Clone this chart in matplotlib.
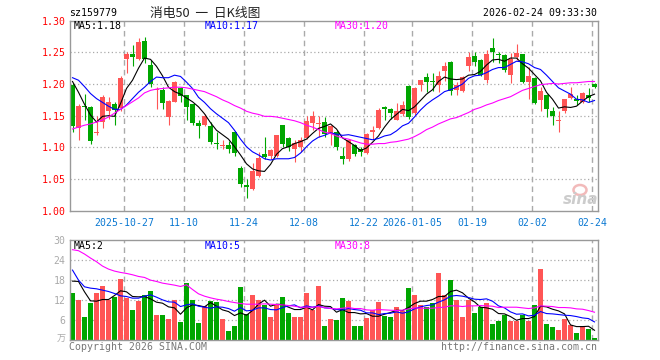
import matplotlib
matplotlib.use('Agg')
import matplotlib.pyplot as plt
from matplotlib.patches import Ellipse
import numpy as np

# ---------------- data ----------------
date_labels = ['2025-10-27', '11-10', '11-24', '12-08', '12-22',
               '2026-01-05', '01-19', '02-02', '02-24']
date_index = [9, 19, 29, 39, 49, 57, 67, 77, 87]

opens = [1.198, 1.130, 1.165, 1.164, 1.122, 1.140, 1.157, 1.169, 1.162, 1.240,
         1.248, 1.240, 1.268, 1.230, 1.190, 1.190, 1.148, 1.172, 1.193, 1.182,
         1.168, 1.138, 1.135, 1.133, 1.107, 1.102, 1.104, 1.125, 1.068, 1.041,
         1.035, 1.055, 1.089, 1.086, 1.086, 1.135, 1.114, 1.097, 1.100, 1.114,
         1.138, 1.137, 1.140, 1.122, 1.124, 1.087, 1.081, 1.103, 1.097, 1.091,
         1.124, 1.131, 1.163, 1.161, 1.144, 1.153, 1.197, 1.154, 1.198, 1.211,
         1.205, 1.199, 1.221, 1.235, 1.190, 1.189, 1.229, 1.244, 1.238, 1.206,
         1.257, 1.247, 1.246, 1.214, 1.242, 1.247, 1.204, 1.209, 1.175, 1.183,
         1.157, 1.141, 1.158, 1.178, 1.175, 1.172, 1.183, 1.200]
highs = [1.201, 1.168, 1.185, 1.166, 1.149, 1.182, 1.180, 1.171, 1.213, 1.250,
         1.262, 1.272, 1.275, 1.238, 1.195, 1.195, 1.175, 1.205, 1.195, 1.183,
         1.169, 1.143, 1.153, 1.140, 1.125, 1.112, 1.110, 1.126, 1.070, 1.050,
         1.075, 1.093, 1.117, 1.097, 1.120, 1.136, 1.116, 1.112, 1.117, 1.150,
         1.158, 1.150, 1.148, 1.135, 1.128, 1.101, 1.113, 1.106, 1.100, 1.122,
         1.134, 1.162, 1.166, 1.162, 1.170, 1.174, 1.198, 1.195, 1.207, 1.217,
         1.218, 1.220, 1.235, 1.236, 1.203, 1.212, 1.251, 1.250, 1.239, 1.254,
         1.273, 1.251, 1.247, 1.249, 1.264, 1.248, 1.227, 1.211, 1.196, 1.184,
         1.164, 1.157, 1.177, 1.195, 1.182, 1.187, 1.193, 1.201]
lows = [1.124, 1.112, 1.143, 1.105, 1.119, 1.131, 1.145, 1.136, 1.158, 1.217,
        1.229, 1.238, 1.234, 1.196, 1.160, 1.161, 1.135, 1.171, 1.172, 1.143,
        1.135, 1.115, 1.133, 1.105, 1.097, 1.097, 1.091, 1.087, 1.038, 1.020,
        1.033, 1.053, 1.081, 1.082, 1.085, 1.101, 1.094, 1.077, 1.093, 1.113,
        1.127, 1.117, 1.116, 1.104, 1.096, 1.073, 1.079, 1.086, 1.087, 1.089,
        1.114, 1.129, 1.144, 1.145, 1.143, 1.150, 1.145, 1.151, 1.189, 1.188,
        1.189, 1.187, 1.205, 1.182, 1.183, 1.188, 1.220, 1.228, 1.212, 1.202,
        1.235, 1.233, 1.219, 1.201, 1.238, 1.202, 1.176, 1.168, 1.157, 1.148,
        1.136, 1.124, 1.155, 1.176, 1.167, 1.170, 1.172, 1.194]
closes = [1.133, 1.166, 1.164, 1.110, 1.125, 1.179, 1.171, 1.159, 1.210, 1.248,
          1.242, 1.266, 1.239, 1.200, 1.192, 1.170, 1.173, 1.204, 1.181, 1.163,
          1.138, 1.134, 1.150, 1.109, 1.105, 1.104, 1.097, 1.091, 1.042, 1.037,
          1.062, 1.083, 1.085, 1.096, 1.119, 1.105, 1.101, 1.107, 1.112, 1.142,
          1.150, 1.139, 1.121, 1.133, 1.100, 1.081, 1.112, 1.090, 1.092, 1.121,
          1.127, 1.159, 1.161, 1.154, 1.158, 1.167, 1.148, 1.193, 1.206, 1.204,
          1.203, 1.213, 1.229, 1.189, 1.199, 1.211, 1.243, 1.235, 1.214, 1.248,
          1.250, 1.246, 1.222, 1.239, 1.249, 1.204, 1.213, 1.170, 1.189, 1.161,
          1.149, 1.143, 1.176, 1.185, 1.174, 1.186, 1.178, 1.196]
volumes = [14.2, 12.1, 7.0, 11.2, 14.2, 16.3, 12.1, 13.0, 18.3, 12.8,
           9.1, 11.8, 13.6, 14.8, 7.6, 7.6, 6.4, 12.1, 5.5, 17.1,
           12.1, 5.2, 10.3, 11.8, 11.6, 6.4, 2.8, 4.3, 16.0, 7.9,
           13.6, 12.1, 10.6, 7.0, 10.6, 13.0, 8.2, 7.0, 7.0, 14.2,
           9.1, 16.3, 4.3, 6.4, 6.1, 12.7, 11.9, 4.3, 4.3, 6.7,
           9.0, 11.5, 7.3, 7.0, 10.0, 8.8, 15.7, 13.6, 10.6, 10.0,
           11.2, 20.1, 13.6, 18.0, 12.1, 7.0, 12.1, 8.2, 10.0, 11.2,
           4.9, 5.8, 7.6, 5.8, 5.8, 7.6, 5.8, 10.6, 21.3, 4.9,
           4.0, 3.1, 6.4, 4.6, 2.2, 4.3, 3.4, 0.7]

ma5 = [1.204, 1.187, 1.168, 1.151, 1.140, 1.149, 1.150, 1.149, 1.169, 1.193,
       1.206, 1.225, 1.241, 1.239, 1.228, 1.213, 1.195, 1.188, 1.184, 1.178,
       1.172, 1.164, 1.153, 1.139, 1.127, 1.120, 1.113, 1.101, 1.088, 1.074,
       1.066, 1.063, 1.062, 1.073, 1.089, 1.098, 1.101, 1.106, 1.109, 1.113,
       1.122, 1.130, 1.133, 1.137, 1.129, 1.115, 1.109, 1.103, 1.095, 1.099,
       1.108, 1.118, 1.132, 1.144, 1.152, 1.160, 1.158, 1.164, 1.174, 1.184,
       1.191, 1.204, 1.211, 1.208, 1.207, 1.208, 1.214, 1.215, 1.220, 1.230,
       1.238, 1.239, 1.236, 1.241, 1.241, 1.232, 1.225, 1.215, 1.205, 1.187,
       1.176, 1.162, 1.164, 1.163, 1.165, 1.173, 1.180, 1.184]
ma10 = [1.210, 1.206, 1.196, 1.185, 1.177, 1.171, 1.165, 1.160, 1.160, 1.167,
        1.177, 1.187, 1.195, 1.204, 1.211, 1.210, 1.210, 1.214, 1.212, 1.203,
        1.193, 1.179, 1.171, 1.161, 1.153, 1.146, 1.139, 1.127, 1.113, 1.101,
        1.093, 1.088, 1.082, 1.080, 1.082, 1.082, 1.082, 1.084, 1.091, 1.101,
        1.110, 1.116, 1.119, 1.123, 1.121, 1.119, 1.120, 1.118, 1.116, 1.114,
        1.112, 1.114, 1.118, 1.120, 1.126, 1.134, 1.138, 1.148, 1.159, 1.168,
        1.175, 1.181, 1.188, 1.191, 1.195, 1.200, 1.209, 1.213, 1.214, 1.218,
        1.223, 1.226, 1.226, 1.231, 1.236, 1.235, 1.232, 1.226, 1.223, 1.214,
        1.204, 1.194, 1.189, 1.184, 1.176, 1.175, 1.171, 1.174]
ma30 = [1.129, 1.132, 1.135, 1.137, 1.140, 1.143, 1.148, 1.154, 1.160, 1.166,
        1.172, 1.178, 1.186, 1.190, 1.192, 1.193, 1.194, 1.195, 1.195, 1.194,
        1.192, 1.190, 1.188, 1.184, 1.180, 1.175, 1.171, 1.166, 1.162, 1.157,
        1.154, 1.152, 1.149, 1.149, 1.148, 1.146, 1.144, 1.142, 1.139, 1.135,
        1.132, 1.128, 1.124, 1.122, 1.118, 1.115, 1.113, 1.110, 1.107, 1.105,
        1.105, 1.106, 1.106, 1.108, 1.109, 1.111, 1.113, 1.117, 1.122, 1.128,
        1.132, 1.137, 1.141, 1.145, 1.147, 1.151, 1.155, 1.160, 1.163, 1.167,
        1.170, 1.174, 1.177, 1.180, 1.185, 1.190, 1.193, 1.196, 1.199, 1.200,
        1.201, 1.200, 1.201, 1.202, 1.202, 1.203, 1.204, 1.204]

vma5 = [17.7, 17.6, 14.5, 11.8, 11.7, 12.2, 12.2, 13.4, 14.8, 14.5,
        13.1, 13.0, 13.1, 12.4, 11.4, 11.1, 10.0, 9.7, 7.8, 9.7,
        10.6, 10.4, 10.0, 11.3, 10.2, 9.1, 8.6, 7.4, 8.2, 7.5,
        8.9, 10.8, 12.0, 10.2, 10.8, 10.7, 9.9, 9.2, 9.2, 9.9,
        9.1, 10.7, 10.2, 10.1, 8.4, 9.2, 8.3, 8.3, 7.9, 8.0,
        7.2, 7.2, 7.8, 8.3, 9.0, 8.9, 9.8, 11.0, 11.7, 11.7,
        12.2, 13.1, 13.1, 14.6, 15.0, 14.2, 12.6, 11.5, 9.9, 9.7,
        9.3, 8.0, 7.9, 7.1, 6.0, 6.5, 6.5, 7.1, 10.2, 10.0,
        9.3, 8.8, 7.9, 4.6, 4.1, 4.1, 4.2, 3.0]
vma10 = [21.0, 18.0, 16.0, 15.6, 15.4, 15.0, 14.6, 14.0, 13.3, 13.1,
         12.6, 12.6, 13.2, 13.6, 12.9, 12.1, 11.5, 11.4, 10.1, 10.6,
         10.9, 10.2, 9.9, 9.6, 10.0, 9.9, 9.5, 8.7, 9.8, 8.8,
         9.0, 9.7, 9.7, 9.2, 9.1, 9.8, 10.3, 10.6, 9.7, 10.3,
         9.9, 10.3, 9.7, 9.6, 9.2, 9.1, 9.5, 9.2, 9.0, 8.2,
         8.2, 7.7, 8.0, 8.1, 8.5, 8.1, 8.5, 9.4, 10.0, 10.4,
         10.6, 11.4, 12.1, 13.2, 13.4, 13.2, 12.8, 12.3, 12.2, 12.4,
         11.7, 10.3, 9.7, 8.5, 7.8, 7.9, 7.3, 7.5, 8.6, 8.0,
         7.9, 7.7, 7.5, 7.4, 7.1, 6.7, 6.5, 5.5]
vma30 = [27.1, 26.8, 25.8, 24.6, 23.5, 22.2, 21.3, 20.7, 20.3, 20.0,
         19.6, 19.1, 18.8, 18.0, 17.6, 17.1, 16.8, 16.5, 16.1, 16.6,
         15.2, 13.9, 13.2, 12.7, 12.3, 12.0, 11.6, 11.3, 11.0, 10.8,
         10.8, 10.8, 10.9, 10.8, 10.7, 10.6, 10.4, 10.2, 9.9, 9.9,
         9.9, 10.1, 9.8, 9.5, 9.4, 9.6, 9.8, 9.5, 9.5, 9.1,
         9.0, 9.2, 9.1, 9.0, 8.9, 9.0, 9.4, 9.7, 9.6, 9.6,
         9.6, 9.8, 9.9, 10.3, 10.3, 10.1, 10.3, 10.3, 10.4, 10.3,
         10.2, 9.8, 9.9, 9.9, 9.9, 9.7, 9.5, 9.7, 10.3, 10.2,
         10.1, 9.8, 9.8, 9.7, 9.4, 9.3, 8.9, 8.4]

price_ticks = [1.00, 1.05, 1.10, 1.15, 1.20, 1.25, 1.30]
vol_ticks = [6, 12, 18, 24, 30]

# ---------------- style ----------------
RED = '#ff5555'
GREEN = '#00a600'
MONO = 'DejaVu Sans Mono'
CJK = ['Noto Sans CJK SC', 'DejaVu Sans']
FS = 7.1
GRIDC = '#aaaaaa'
W, H = 660, 360

def rect(x0, y0, x1, y1):
    return [x0 / W, 1 - y1 / H, (x1 - x0) / W, (y1 - y0) / H]

fig = plt.figure(figsize=(6.6, 3.6), dpi=100)
fig.patch.set_facecolor('white')
ax = fig.add_axes(rect(70, 20.7, 598, 210.7))
axv = fig.add_axes(rect(70, 240, 598, 340.3))

n = len(closes)
idx = np.arange(n)
o = np.array(opens); c = np.array(closes)
hi = np.array(highs); lo = np.array(lows)
up = c >= o
colors = [RED if u else GREEN for u in up]
xlim = (-0.417, 87.583)
vlines_x = [d - 0.417 for d in date_index]

# price panel
for a in (ax, axv):
    a.set_xlim(*xlim)
    for s in a.spines.values():
        s.set_color('#999999')
        s.set_linewidth(1.0)
    for xv in vlines_x:
        a.axvline(xv, color=GRIDC, lw=1.0, ls=(0, (4, 3)), zorder=0.5)

ax.set_ylim(1.00, 1.30)
for y in price_ticks[1:-1]:
    ax.axhline(y, color=GRIDC, lw=0.9, ls=(0, (1, 2)), zorder=0.5)

ax.vlines(idx, lo, hi, colors=colors, lw=0.8, zorder=2)
body_bottom = np.minimum(o, c)
body_h = np.maximum(np.abs(c - o), 0.0016)
ax.bar(idx, body_h, bottom=body_bottom, width=0.75, color=colors,
       edgecolor='none', zorder=2)
ax.plot(idx, ma5, color='black', lw=0.8, zorder=3)
ax.plot(idx, ma10, color='#0000ff', lw=0.8, zorder=3)
ax.plot(idx, ma30, color='#ff00ff', lw=0.8, zorder=3)

ax.set_yticks(price_ticks)
ax.set_yticklabels(['%.2f' % t for t in price_ticks], color='#ff0000',
                   fontsize=FS, family=MONO)
ax.set_xticks(vlines_x)
ax.set_xticklabels(date_labels, color='#0a78d2', fontsize=FS, family=MONO)
ax.tick_params(axis='both', length=0)
ax.tick_params(axis='y', pad=3.2)
ax.tick_params(axis='x', pad=5.0)

# volume panel
axv.set_ylim(0, 30)
for y in vol_ticks[:-1]:
    axv.axhline(y, color=GRIDC, lw=0.9, ls=(0, (1, 2)), zorder=0.5)
axv.bar(idx, volumes, width=0.82, color=colors, edgecolor='none', zorder=2)
axv.plot(idx, vma5, color='black', lw=0.8, zorder=3)
axv.plot(idx, vma10, color='#0000ff', lw=0.8, zorder=3)
axv.plot(idx, vma30, color='#ff00ff', lw=0.8, zorder=3)
axv.set_yticks(vol_ticks)
axv.set_yticklabels([str(t) for t in vol_ticks], color='#aaaaaa',
                    fontsize=FS, family=MONO)
axv.set_xticks([])
axv.tick_params(axis='both', length=0)
axv.tick_params(axis='y', pad=3.2)

# texts
def ftext(x, y, s, **kw):
    kw.setdefault('fontsize', FS)
    kw.setdefault('family', MONO)
    kw.setdefault('va', 'center')
    fig.text(x / W, 1 - y / H, s, **kw)

ftext(69, 13, 'sz159779', color='black')
ftext(205, 13, '消电50  一  日K线图', ha='center', family=CJK, fontsize=9.2,
      color='#222222')
ftext(597, 13, '2026-02-24 09:33:30', ha='right', color='black')
ftext(74, 26, 'MA5:1.18', color='black')
ftext(204.5, 26, 'MA10:1.17', color='#0000ff')
ftext(334.5, 26, 'MA30:1.20', color='#ff00ff')
ftext(74, 245.7, 'MA5:2', color='black')
ftext(204.5, 245.7, 'MA10:5', color='#0000ff')
ftext(334.5, 245.7, 'MA30:8', color='#ff00ff')
ftext(65.5, 339, '万', ha='right', family=CJK, fontsize=6.5, color='#aaaaaa')
ftext(69, 346.5, 'Copyright 2026 SINA.COM', color='#777777')
ftext(597, 346.5, 'http://finance.sina.com.cn', ha='right', color='#777777')

# sina watermark
ftext(581, 199, 'sina', ha='center', family='DejaVu Sans', fontsize=11,
      fontweight='bold', style='italic', color='#cccccc')
fig.add_artist(Ellipse((580 / W, 1 - 190 / H), 13 / W, 10 / H, fill=False,
                       ec='#f2baba', lw=1.8, transform=fig.transFigure))

fig.savefig('out.png', dpi=100)
